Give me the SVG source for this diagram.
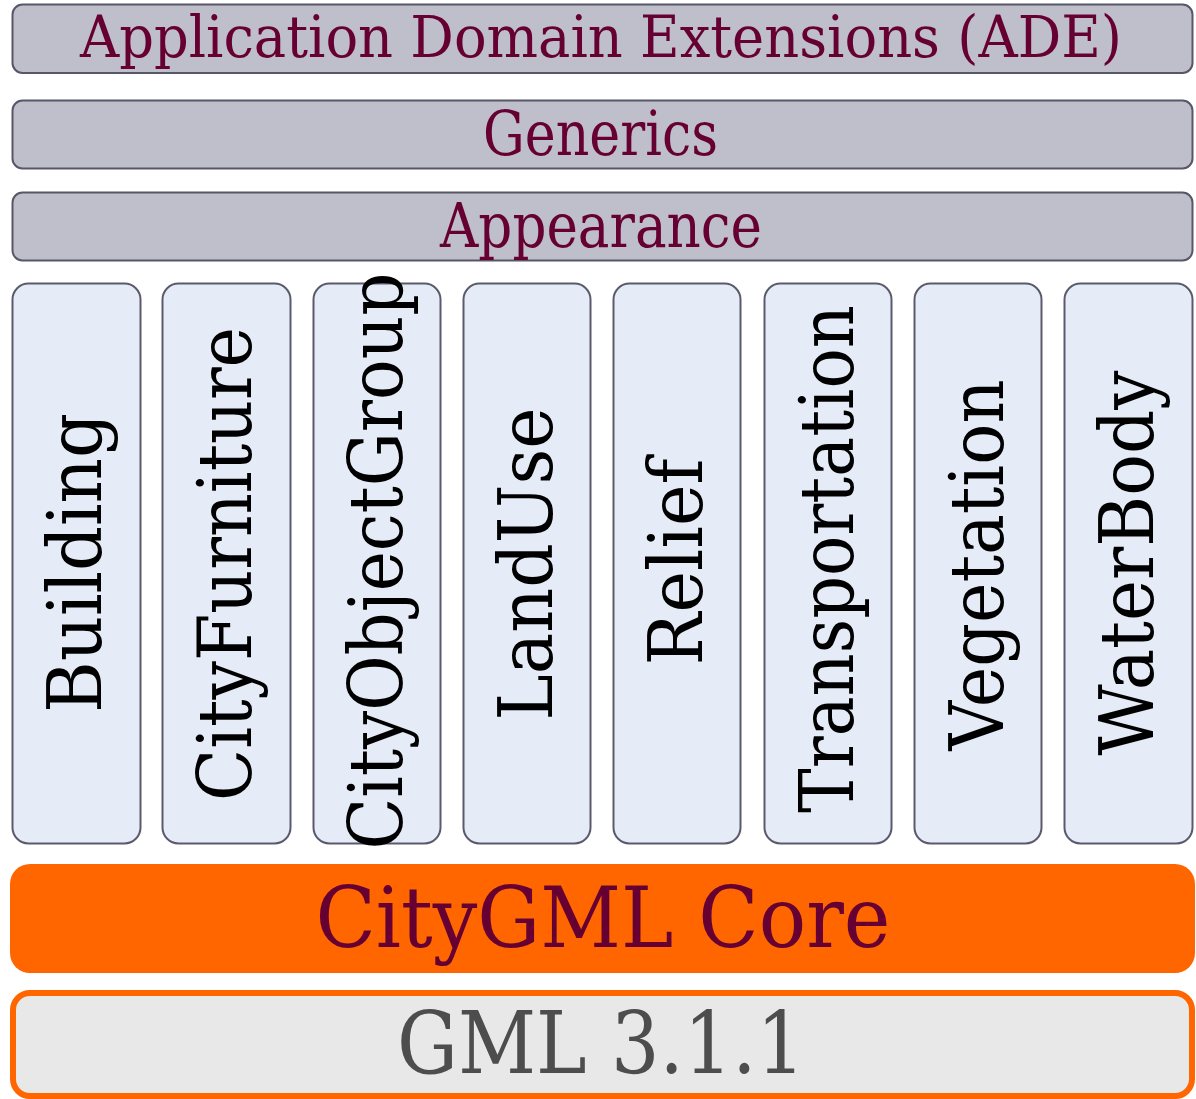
<svg xmlns="http://www.w3.org/2000/svg" width="1196" height="1099" viewBox="0 0 1196 1099">
<style>
.bar{fill:#BFBFCB;stroke:#575768;stroke-width:2}
.col{fill:#E6ECF7;stroke:#5A5A6C;stroke-width:2}
.t{font-family:"DejaVu Serif","Liberation Serif",serif;text-anchor:middle}
.m{fill:#660033}
.v{fill:#000000;font-size:75px}
</style>
<rect width="1196" height="1099" fill="#FFFFFF"/>
<g id="ade">
<rect class="bar" x="12.5" y="4.5" width="1180" height="68.5" rx="10"/>
<text class="t m" x="601" y="57" font-size="58" textLength="1042" lengthAdjust="spacingAndGlyphs">Application Domain Extensions (ADE)</text>
</g>
<g id="generics">
<rect class="bar" x="12.5" y="100.5" width="1180" height="68" rx="10"/>
<text class="t m" x="600.5" y="155" font-size="61" textLength="235" lengthAdjust="spacingAndGlyphs">Generics</text>
</g>
<g id="appearance">
<rect class="bar" x="12.5" y="192.5" width="1180" height="68" rx="10"/>
<text class="t m" x="601" y="247" font-size="61" textLength="322" lengthAdjust="spacingAndGlyphs">Appearance</text>
</g>
<g id="building">
<rect class="col" x="12.5" y="283.5" width="128" height="560" rx="16"/>
<text class="t v" transform="translate(101,563) rotate(-90)" textLength="300" lengthAdjust="spacingAndGlyphs">Building</text>
</g>
<g id="cityfurniture">
<rect class="col" x="162.5" y="283.5" width="128" height="560" rx="16"/>
<text class="t v" transform="translate(251,564) rotate(-90)" textLength="474" lengthAdjust="spacingAndGlyphs">CityFurniture</text>
</g>
<g id="cityobjectgroup">
<rect class="col" x="313.5" y="283.5" width="127" height="560" rx="16"/>
<text class="t v" transform="translate(402,561) rotate(-90)" textLength="577" lengthAdjust="spacingAndGlyphs">CityObjectGroup</text>
</g>
<g id="landuse">
<rect class="col" x="463.5" y="283.5" width="127" height="560" rx="16"/>
<text class="t v" transform="translate(552,564) rotate(-90)" textLength="313" lengthAdjust="spacingAndGlyphs">LandUse</text>
</g>
<g id="relief">
<rect class="col" x="613.5" y="283.5" width="127" height="560" rx="16"/>
<text class="t v" transform="translate(702,562) rotate(-90)" textLength="207" lengthAdjust="spacingAndGlyphs">Relief</text>
</g>
<g id="transportation">
<rect class="col" x="764.5" y="283.5" width="127" height="560" rx="16"/>
<text class="t v" transform="translate(853,559) rotate(-90)" textLength="508" lengthAdjust="spacingAndGlyphs">Transportation</text>
</g>
<g id="vegetation">
<rect class="col" x="914.5" y="283.5" width="127" height="560" rx="16"/>
<text class="t v" transform="translate(1003,565) rotate(-90)" textLength="371" lengthAdjust="spacingAndGlyphs">Vegetation</text>
</g>
<g id="waterbody">
<rect class="col" x="1064.5" y="283.5" width="128" height="560" rx="16"/>
<text class="t v" transform="translate(1153,563) rotate(-90)" textLength="385" lengthAdjust="spacingAndGlyphs">WaterBody</text>
</g>
<g id="core">
<rect x="10" y="864" width="1185" height="109" rx="20" fill="#FF6600"/>
<text class="t m" x="603" y="947" font-size="85" textLength="575" lengthAdjust="spacingAndGlyphs">CityGML Core</text>
</g>
<g id="gml">
<rect x="13" y="993" width="1179" height="103" rx="17" fill="#E8E8E8" stroke="#FF6600" stroke-width="6"/>
<text class="t" x="601" y="1073" font-size="86" fill="#4D4D4D" textLength="408" lengthAdjust="spacingAndGlyphs">GML 3.1.1</text>
</g>
<g id="connectors"></g>
</svg>
